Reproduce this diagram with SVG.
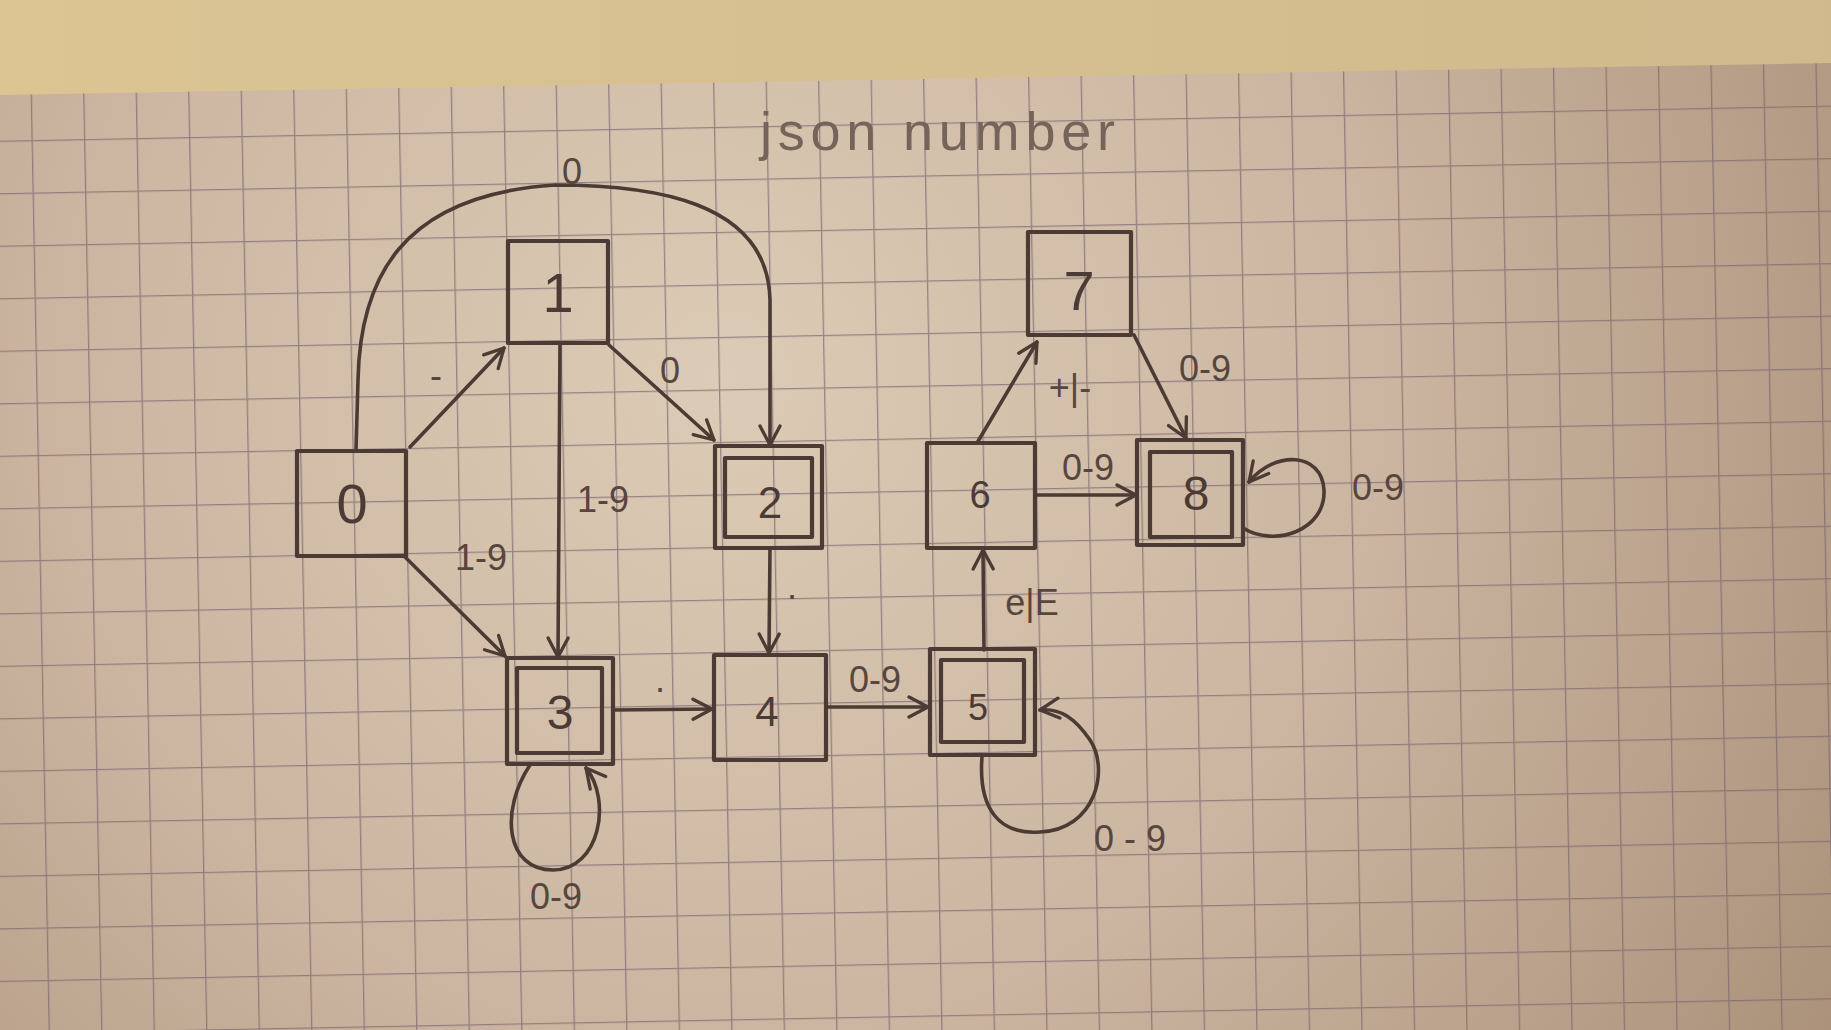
<svg xmlns="http://www.w3.org/2000/svg" width="1831" height="1030" viewBox="0 0 1831 1030">
<style>
.pen{fill:none;stroke:#4b3b34;stroke-width:3.6;stroke-linecap:round;stroke-linejoin:round}
.box{fill:none;stroke:#4b3b34;stroke-width:4.2;stroke-linejoin:round}
.num{font-family:"Liberation Sans",Arial,sans-serif;fill:#4b3b34;text-anchor:middle}
.lbl{font-family:"Liberation Sans",Arial,sans-serif;fill:#57463e;text-anchor:middle;font-size:36px}
.title{font-family:"Liberation Sans",Arial,sans-serif;fill:#76645b;font-size:54px}
</style>
<defs>
<marker id="arr" viewBox="0 0 24 24" refX="22" refY="12" markerWidth="24" markerHeight="24" markerUnits="userSpaceOnUse" orient="auto">
<path d="M3,2 L22,12 L3,22" fill="none" stroke="#4b3b34" stroke-width="3.3" stroke-linecap="round" stroke-linejoin="round"/>
</marker>
<linearGradient id="bg" x1="0" y1="0" x2="1" y2="0">
<stop offset="0" stop-color="#dcc593"/>
<stop offset="1" stop-color="#d0b98c"/>
</linearGradient>
<radialGradient id="paper" cx="720" cy="380" r="1350" gradientUnits="userSpaceOnUse">
<stop offset="0" stop-color="#dccbb6"/>
<stop offset="0.5" stop-color="#cbb5a0"/>
<stop offset="1" stop-color="#a88e77"/>
</radialGradient>
<pattern id="gridpat" x="300" y="450" width="52.5" height="52.5" patternUnits="userSpaceOnUse" patternTransform="rotate(-1.1 300 450)">
<path d="M0,0 L0,52.5 M0,0 L52.5,0" fill="none" stroke="#7a6570" stroke-width="2.6" stroke-opacity="0.7"/>
</pattern>
<clipPath id="paperclip"><polygon points="0,95 1831,63 1831,1030 0,1030"/></clipPath>
</defs>

<rect x="0" y="0" width="1831" height="1030" fill="url(#bg)"/>
<g id="paper-sheet">
<polygon points="0,95 1831,63 1831,1030 0,1030" fill="url(#paper)"/>
<rect x="-100" y="-100" width="2100" height="1300" fill="url(#gridpat)" clip-path="url(#paperclip)"/>
</g>

<text id="title" class="title" x="760" y="150" textLength="355" lengthAdjust="spacing">json number</text>

<g id="connectors">
<path id="e0-1" class="pen" d="M410,447 L504,348" marker-end="url(#arr)"/>
<path id="e0-2" class="pen" d="M356,450 L358,380 C360,280 400,195 555,185 C650,185 768,200 770,300 L770,445" marker-end="url(#arr)"/>
<path id="e1-2" class="pen" d="M609,345 L714,440" marker-end="url(#arr)"/>
<path id="e1-3" class="pen" d="M560,343 L558,657" marker-end="url(#arr)"/>
<path id="e0-3" class="pen" d="M405,557 L505,656" marker-end="url(#arr)"/>
<path id="e2-4" class="pen" d="M770,548 L769,653" marker-end="url(#arr)"/>
<path id="e3-4" class="pen" d="M613,710 L712,709" marker-end="url(#arr)"/>
<path id="e4-5" class="pen" d="M827,707 L928,707" marker-end="url(#arr)"/>
<path id="e5-6" class="pen" d="M984,650 L983,550" marker-end="url(#arr)"/>
<path id="e6-7" class="pen" d="M977,443 L1037,342" marker-end="url(#arr)"/>
<path id="e7-8" class="pen" d="M1134,335 L1186,438" marker-end="url(#arr)"/>
<path id="e6-8" class="pen" d="M1036,495 L1136,495" marker-end="url(#arr)"/>
<path id="e3-3" class="pen" d="M530,765 C500,810 505,870 553,870 C600,870 612,800 586,768" marker-end="url(#arr)"/>
<path id="e5-5" class="pen" d="M982,757 C978,810 1000,835 1040,832 C1095,830 1110,770 1090,740 C1075,718 1060,708 1040,710" marker-end="url(#arr)"/>
<path id="e8-8" class="pen" d="M1243,528 C1275,548 1326,530 1324,490 C1322,452 1275,450 1249,482" marker-end="url(#arr)"/>
</g>

<g id="edge-labels">
<text class="lbl" x="572" y="184" font-size="40">0</text>
<text class="lbl" x="436" y="388">-</text>
<text class="lbl" x="670" y="383">0</text>
<text class="lbl" x="603" y="512" font-size="40">1-9</text>
<text class="lbl" x="481" y="570">1-9</text>
<text class="lbl" x="792" y="599">.</text>
<text class="lbl" x="660" y="692">.</text>
<text class="lbl" x="875" y="692" font-size="32">0-9</text>
<text class="lbl" x="1032" y="615" font-size="40">e|E</text>
<text class="lbl" x="1070" y="400" font-size="40">+|-</text>
<text class="lbl" x="1205" y="381" font-size="40">0-9</text>
<text class="lbl" x="1088" y="480" font-size="30">0-9</text>
<text class="lbl" x="1378" y="500" font-size="40">0-9</text>
<text class="lbl" x="556" y="909" font-size="40">0-9</text>
<text class="lbl" x="1130" y="851" font-size="40">0 - 9</text>
</g>

<g id="node-0"><rect class="box" x="297" y="451" width="109" height="105"/><text class="num" x="352" y="523" font-size="56">0</text></g>
<g id="node-1"><rect class="box" x="508" y="241" width="100" height="102"/><text class="num" x="558" y="312" font-size="56">1</text></g>
<g id="node-2"><rect class="box" x="715" y="446" width="107" height="102"/><rect class="box" x="725" y="458" width="87" height="79"/><text class="num" x="770" y="518" font-size="44">2</text></g>
<g id="node-3"><rect class="box" x="507" y="658" width="106" height="106"/><rect class="box" x="517" y="668" width="85" height="85"/><text class="num" x="560" y="729" font-size="48">3</text></g>
<g id="node-4"><rect class="box" x="714" y="655" width="112" height="105"/><text class="num" x="767" y="726" font-size="42">4</text></g>
<g id="node-5"><rect class="box" x="930" y="649" width="105" height="106"/><rect class="box" x="941" y="660" width="83" height="82"/><text class="num" x="978" y="720" font-size="36">5</text></g>
<g id="node-6"><rect class="box" x="927" y="443" width="108" height="105"/><text class="num" x="980" y="508" font-size="38">6</text></g>
<g id="node-7"><rect class="box" x="1028" y="232" width="103" height="103"/><text class="num" x="1079" y="310" font-size="56">7</text></g>
<g id="node-8"><rect class="box" x="1137" y="440" width="106" height="105"/><rect class="box" x="1150" y="452" width="82" height="85"/><text class="num" x="1196" y="510" font-size="48">8</text></g>
</svg>
